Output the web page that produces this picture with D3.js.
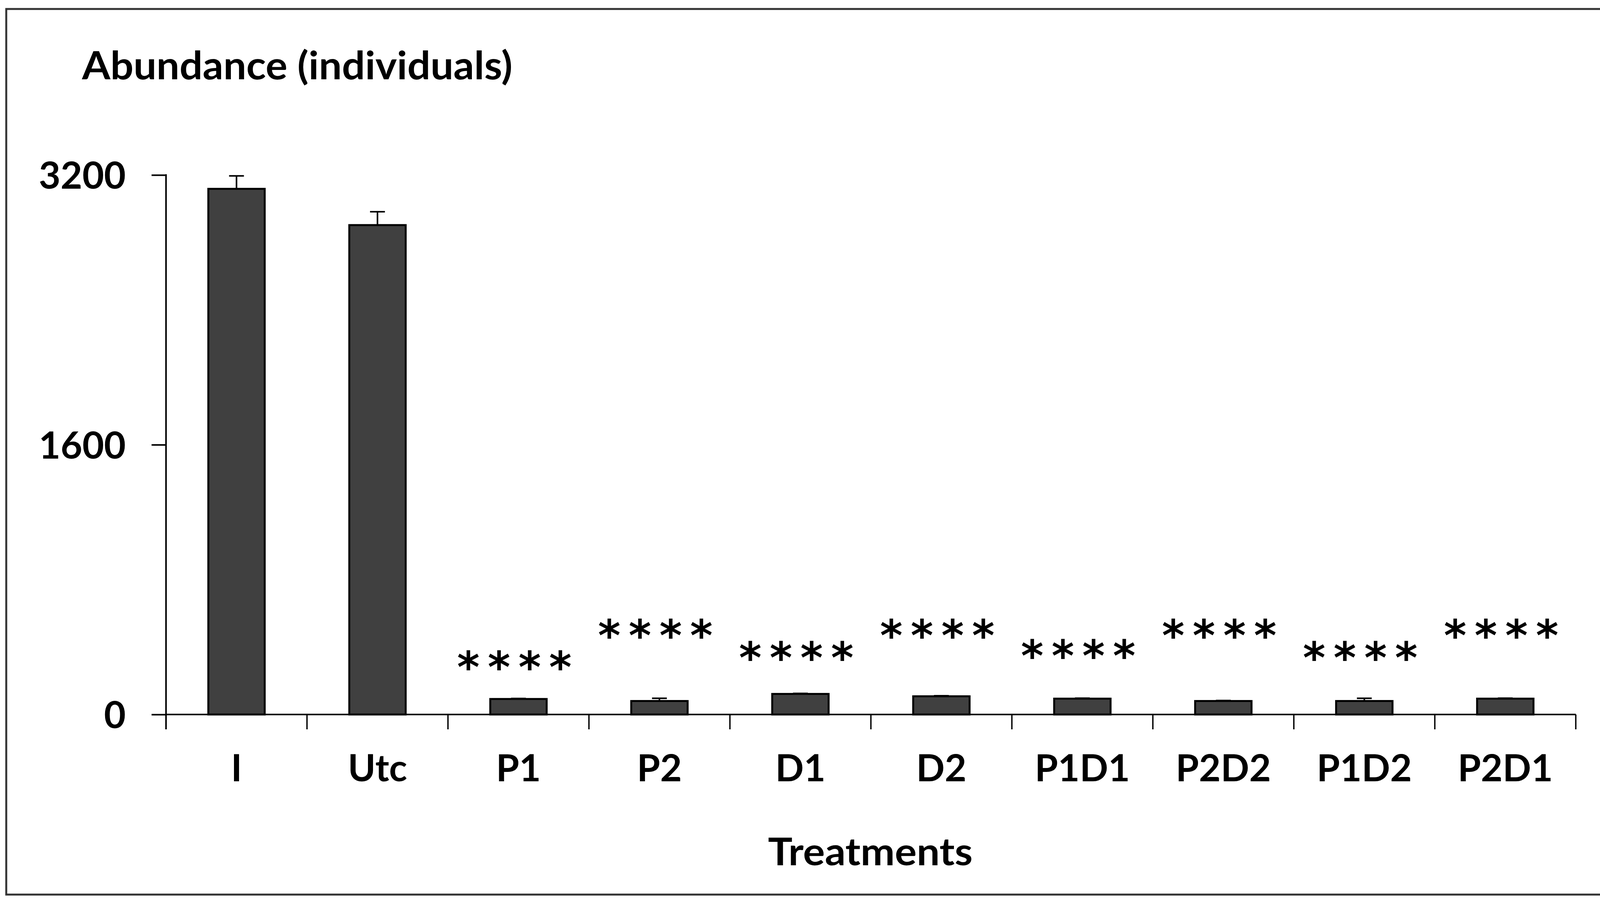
<!DOCTYPE html>
<html><head><meta charset="utf-8">
<script src="https://cdn.jsdelivr.net/npm/d3@7"></script>
<style>html,body{margin:0;padding:0;background:#fff;overflow:hidden;} svg{display:block;}</style>
</head><body>
<script>
const categories = ["I","Utc","P1","P2","D1","D2","P1D1","P2D2","P1D2","P2D1"];
const values = [3118, 2903, 92, 80, 122, 108, 94, 80, 80, 94];
const errors = [77, 79, 3, 16, 3, 3, 3, 3, 16, 3];
const starLabels = ["", "", "****","****","****","****","****","****","****","****"];
const starLevels = [null, null, 306, 494, 361, 494, 373, 494, 361, 494];
const yTicks = [0, 1600, 3200];
const yTitle = "Abundance (individuals)";
const xTitle = "Treatments";

const W = 4161, H = 2309;
const svg = d3.select("body").append("svg").attr("width", W).attr("height", H);
svg.append("rect").attr("width", W).attr("height", H).attr("fill", "#fff");
svg.append("rect").attr("x",16).attr("y",23).attr("width",4134).attr("height",2267)
  .attr("fill","none").attr("stroke","#333").attr("stroke-width",5);

const x = d3.scaleBand().domain(categories).range([425, 4034]).paddingInner(0).paddingOuter(0);
const y = d3.scaleLinear().domain([0, 3200]).range([1829, 448]);
const font = "Lato, 'Open Sans', sans-serif";
const bw = x.bandwidth() * 0.4;

// bars
svg.append("g").selectAll("rect").data(categories).join("rect")
  .attr("x", (d)=> x(d) + x.bandwidth()/2 - bw/2)
  .attr("y", (d,i)=> y(values[i]))
  .attr("width", bw)
  .attr("height", (d,i)=> y(0) - y(values[i]))
  .attr("fill", "#404040").attr("stroke", "#000").attr("stroke-width", 5);

// error bars
const eg = svg.append("g").attr("stroke","#000").attr("stroke-width",4);
categories.forEach((c,i)=>{
  const cx = x(c) + x.bandwidth()/2;
  eg.append("line").attr("x1",cx).attr("x2",cx).attr("y1",y(values[i])).attr("y2",y(values[i]+errors[i]));
  eg.append("line").attr("x1",cx-19).attr("x2",cx+19).attr("y1",y(values[i]+errors[i])).attr("y2",y(values[i]+errors[i]));
});

// y axis
const ya = d3.axisLeft(y).tickValues(yTicks).tickSize(37).tickPadding(66).tickFormat(d3.format("d"));
const yg = svg.append("g").attr("transform","translate(425,0)").call(ya);
yg.select(".domain").remove();
yg.selectAll(".tick line").attr("stroke","#000").attr("stroke-width",4);
yg.selectAll(".tick text").attr("font-family",font).attr("font-weight",700).attr("font-size",96).attr("fill","#000").attr("dy","0.36em");
svg.append("line").attr("x1",425).attr("x2",425).attr("y1",446).attr("y2",1867).attr("stroke","#000").attr("stroke-width",4);

// x axis
svg.append("line").attr("x1",425).attr("x2",4034).attr("y1",1829).attr("y2",1829).attr("stroke","#000").attr("stroke-width",4);
const bounds = categories.map(c=>x(c)).concat([x(categories[categories.length-1])+x.bandwidth()]);
svg.append("g").selectAll("line").data(bounds).join("line")
  .attr("x1",d=>d).attr("x2",d=>d).attr("y1",1829).attr("y2",1867).attr("stroke","#000").attr("stroke-width",3.5);
svg.append("g").selectAll("text").data(categories).join("text")
  .attr("x", d=> x(d)+x.bandwidth()/2).attr("y", 2000).attr("text-anchor","middle")
  .attr("font-family",font).attr("font-weight",700).attr("font-size",96).text(d=>d);

// stars
svg.append("g").selectAll("text").data(categories).join("text")
  .attr("x", d=> x(d)+x.bandwidth()/2)
  .attr("y", (d,i)=> starLevels[i]==null ? 0 : y(starLevels[i]) + 50)
  .attr("text-anchor","middle")
  .attr("font-family","'DejaVu Sans', sans-serif").attr("font-weight",700).attr("font-size",110).attr("letter-spacing",21)
  .text((d,i)=> starLabels[i]);

// titles
svg.append("text").attr("x",210).attr("y",203).attr("font-family",font).attr("font-weight",700).attr("font-size",99)
  .attr("textLength",1102).attr("lengthAdjust","spacingAndGlyphs").text(yTitle);
svg.append("text").attr("x",1966).attr("y",2215).attr("font-family",font).attr("font-weight",700).attr("font-size",97)
  .attr("textLength",524).attr("lengthAdjust","spacingAndGlyphs").text(xTitle);
</script>
</body></html>
